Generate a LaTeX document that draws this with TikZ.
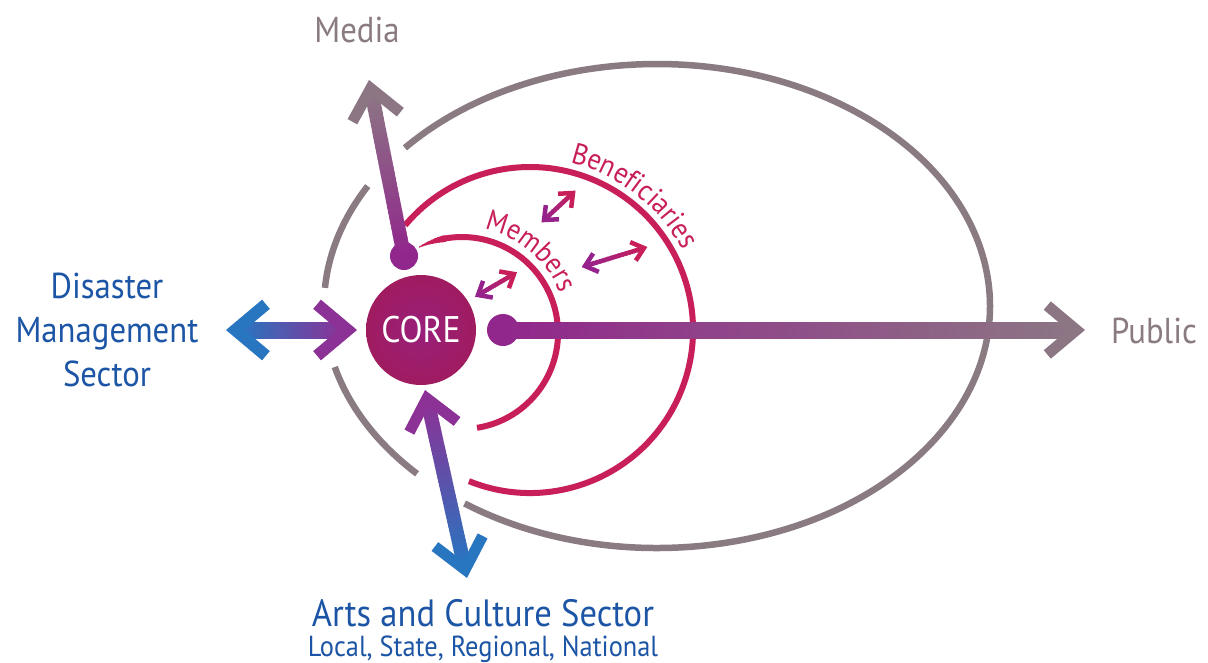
\documentclass[tikz,border=0pt]{standalone}
\usepackage{fontspec}
\setmainfont{PT Sans}[FakeStretch=0.91]
\usetikzlibrary{calc,decorations.text}

\definecolor{ringgray}{RGB}{138,123,130}
\definecolor{crimson}{RGB}{200,30,90}
\definecolor{labelblue}{RGB}{28,85,165}
\definecolor{arrblue}{RGB}{40,117,192}
\definecolor{arrpurple}{RGB}{140,50,150}
\definecolor{outpurple}{RGB}{145,38,140}
\definecolor{outgray}{RGB}{140,118,132}
\definecolor{smallpurple}{RGB}{150,35,140}

% straight stroke whose colour runs from #4 to #5 (N = #6 pieces)
\newcommand\gradline[6]{%
  \foreach \k in {1,...,#6}{%
    \pgfmathsetmacro\gA{(\k-1)/#6}%
    \pgfmathsetmacro\gB{min(1,(\k+0.35)/#6)}%
    \pgfmathsetmacro\gP{100*(\k-0.5)/#6}%
    \draw[line width=#3, draw=#5!\gP!#4] ($(#1)!\gA!(#2)$) -- ($(#1)!\gB!(#2)$);
  }}
% open chevron head: apex #1, pointing away from #2, arm length #3 (a length)
\newcommand\chev[5]{%
  \draw[line width=#4, draw=#5, miter limit=10]
    ($(#1)!#3!40:(#2)$) -- (#1) -- ($(#1)!#3!-40:(#2)$);}

\tikzset{
  ring/.style={draw=ringgray, line width=6.5},
  redring/.style={draw=crimson, line width=6},
  ball/.style={circle, inner sep=0pt, fill=outpurple},
  bluelabel/.style={text=labelblue, font=\fontsize{36}{36}\selectfont},
  graylabel/.style={text=ringgray, font=\fontsize{36}{36}\selectfont},
}

\begin{document}
\begin{tikzpicture}[x=1pt,y=1pt]
\fill[white] (0,0) rectangle (1208,-662);
\useasboundingbox (0,0) rectangle (1208,-662);

% outer ring, broken where the sector arrows pass
\coordinate (ec) at (657,-306);
\draw[ring] (ec) ++(234.7:333 and 242) arc[start angle=234.7, end angle=499.2, x radius=333, y radius=242];
\draw[ring] (ec) ++(150.3:333 and 242) arc[start angle=150.3, end angle=175.7, x radius=333, y radius=242];
\draw[ring] (ec) ++(194.6:333 and 242) arc[start angle=194.6, end angle=223.9, x radius=333, y radius=242];

% beneficiaries ring
\coordinate (bc) at (530,-330);
\draw[redring] (bc) ++(-112:163) arc[start angle=-112, end angle=140, radius=163];
% members ring with tapered start
\coordinate (mc) at (462,-333);
\draw[redring] (mc) ++(-81:96) arc[start angle=-81, end angle=101, radius=96];
\foreach \j in {0,...,7}{
  \pgfmathsetmacro\wA{6.2*(1-\j/8)+0.4}
  \draw[draw=crimson, line width=\wA] (mc) ++(100+2*\j:96) arc[start angle=100+2*\j, end angle=102.6+2*\j, radius=96];
}

% ring labels
\path[decorate, decoration={text along path, text color=crimson,
  text={|\fontsize{29}{29}\selectfont|Members}, text align=center}]
  (mc) ++(96:106) arc[start angle=96, end angle=4, radius=106];
\path[decorate, decoration={text along path, text color=crimson,
  text={|\fontsize{29.5}{29.5}\selectfont|Beneficiaries}, text align=center}]
  (bc) ++(98:172) arc[start angle=98, end angle=6, radius=172];

% small exchange arrows
\coordinate (s1a) at (478,-295); \coordinate (s1b) at (514,-274);
\coordinate (s2a) at (544,-220); \coordinate (s2b) at (573,-193);
\coordinate (s3a) at (585,-266); \coordinate (s3b) at (644,-248);
\foreach \a/\b in {s1a/s1b, s2a/s2b, s3a/s3b}{
  \gradline{\a}{\b}{4.5}{smallpurple}{crimson}{16}
  \chev{\a}{\b}{15pt}{4.5}{smallpurple}
  \chev{\b}{\a}{15pt}{4.5}{crimson}
}

% public arrow
\node[ball, minimum size=32pt] (pball) at (503,-330) {};
\coordinate (ptip) at (1076.4,-330);
\coordinate (pend) at (1071,-330);
\gradline{pball.center}{pend}{17}{outpurple}{outgray}{60}
\chev{ptip}{pball}{38pt}{11}{outgray}

% media arrow
\node[ball, minimum size=28pt] (mball) at (404,-256) {};
\coordinate (mtip) at (370.7,-88.4);
\coordinate (mend) at (371.7,-93.3);
\gradline{mball.center}{mend}{14}{outpurple}{outgray}{30}
\chev{mtip}{mball}{38pt}{11}{outgray}

% core
\node[circle, minimum size=110pt, inner sep=0pt, inner color={rgb,255:red,152;green,31;blue,122},
  outer color={rgb,255:red,160;green,28;blue,96}, text=white,
  font=\fontsize{37}{37}\selectfont] (core) at (421,-330) {CORE};

% disaster management arrow
\coordinate (dl) at (235.3,-330);
\coordinate (dr) at (347.7,-330);
\coordinate (dls) at (240,-330);
\coordinate (drs) at (343,-330);
\gradline{dls}{drs}{17}{arrblue}{arrpurple}{30}
\chev{dl}{dr}{40pt}{12}{arrblue}
\chev{dr}{dl}{40pt}{12}{arrpurple}

% arts and culture arrow
\coordinate (at) at (426.9,-398.4);
\coordinate (ab) at (465.1,-569.6);
\coordinate (ats) at ($(at)!5pt!(ab)$);
\coordinate (abs) at ($(ab)!5pt!(at)$);
\gradline{ats}{abs}{14}{arrpurple}{arrblue}{40}
\chev{at}{ab}{38pt}{11}{arrpurple}
\chev{ab}{at}{38pt}{11}{arrblue}

% labels
\node[graylabel, anchor=base] (media) at (357,-42) {Media};
\node[graylabel, anchor=base west, inner sep=0pt] (public) at (1111,-343) {Public};
\node[bluelabel, anchor=base] (dm1) at (107,-298) {Disaster};
\node[bluelabel, anchor=base] (dm2) at (107,-342) {Management};
\node[bluelabel, anchor=base] (dm3) at (107,-386) {Sector};
\node[text=labelblue, font=\fontsize{38}{38}\selectfont, anchor=base] (arts) at (483,-626) {Arts and Culture Sector};
\node[text=labelblue, font=\fontsize{29}{29}\selectfont, anchor=base] (scope) at (483,-656) {Local, State, Regional, National};
\end{tikzpicture}
\end{document}
